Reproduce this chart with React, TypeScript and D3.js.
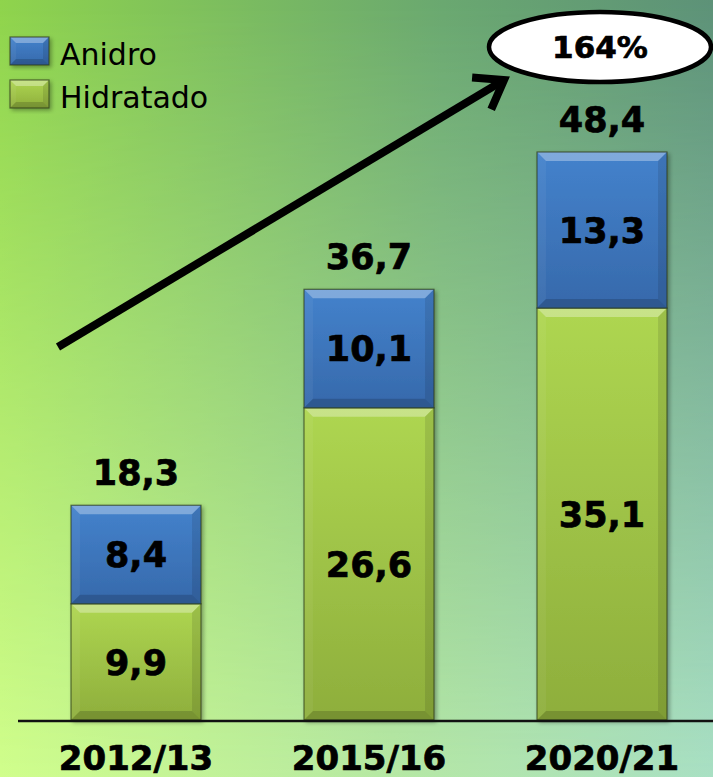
import * as d3 from "d3";
import React from "react";

const seasons = ["2012/13", "2015/16", "2020/21"];
const hidratado = [9.9, 26.6, 35.1];
const anidro = [8.4, 10.1, 13.3];
const totals = [18.3, 36.7, 48.4];
const growth = "164%";
const legendItems = ["Anidro", "Hidratado"];

const W = 713;
const H = 777;
const FONT = "'DejaVu Sans', Verdana, sans-serif";

const fmt = (v: number) => v.toFixed(1).replace(".", ",");

interface BevelProps {
  x: number;
  y: number;
  w: number;
  h: number;
  fill: string;
  b: number;
}

// beveled box like the Office 3-D bar style
function Bevel({ x, y, w, h, fill, b }: BevelProps) {
  const p = (pts: number[][]) => pts.map((q) => q.join(",")).join(" ");
  return (
    <g>
      <rect x={x} y={y} width={w} height={h} fill={fill} />
      <polygon points={p([[x, y], [x + w, y], [x + w - b, y + b], [x + b, y + b]])} fill="#fff" opacity={0.32} />
      <polygon points={p([[x, y], [x + b, y + b], [x + b, y + h - b], [x, y + h]])} fill="#fff" opacity={0.05} />
      <polygon points={p([[x + w, y], [x + w, y + h], [x + w - b, y + h - b], [x + w - b, y + b]])} fill="#000" opacity={0.1} />
      <polygon points={p([[x, y + h], [x + b, y + h - b], [x + w - b, y + h - b], [x + w, y + h]])} fill="#000" opacity={0.16} />
      <rect x={x} y={y} width={w} height={h} fill="none" stroke="#2b3a1a" strokeOpacity={0.7} strokeWidth={1.2} />
    </g>
  );
}

export default function App() {
  const x = d3
    .scaleBand<string>()
    .domain(seasons)
    .range([19.5, 718.5])
    .paddingInner(0.442)
    .paddingOuter(0.221);
  const y = d3.scaleLinear().domain([0, 48.4]).range([720, 152]);
  const bw = x.bandwidth();

  const stack = d3
    .stack<number>()
    .keys(["hidratado", "anidro"])
    .value((i, key) => (key === "hidratado" ? hidratado[i] : anidro[i]));
  const series = stack(seasons.map((_, i) => i));
  const fills = ["url(#gGreen)", "url(#gBlue)"];

  // growth arrow, annotation
  const a0 = [58, 347];
  const a1 = [504, 80];
  const ang = Math.atan2(a1[1] - a0[1], a1[0] - a0[0]);
  const hl = 32;
  const h1 = [a1[0] - hl * Math.cos(ang - 0.62), a1[1] - hl * Math.sin(ang - 0.62)];
  const h2 = [a1[0] - hl * Math.cos(ang + 0.62), a1[1] - hl * Math.sin(ang + 0.62)];

  const bold = { fontWeight: "bold" as const, fill: "#000", stroke: "#000", strokeWidth: 0.7 };

  return (
    <svg width={W} height={H} style={{ position: "absolute", left: 0, top: 0 }} fontFamily={FONT}>
      <defs>
        <linearGradient id="bgTop" x1="0" x2="1" y1="0" y2="0">
          <stop offset="0" stopColor="#8fd44c" />
          <stop offset="0.62" stopColor="#6aa870" />
          <stop offset="1" stopColor="#5d9278" />
        </linearGradient>
        <linearGradient id="bgBot" x1="0" x2="1" y1="0" y2="0">
          <stop offset="0" stopColor="#d0fe8c" />
          <stop offset="0.55" stopColor="#b6e8a4" />
          <stop offset="1" stopColor="#a9e0c4" />
        </linearGradient>
        <linearGradient id="vMask" x1="0" x2="0" y1="0" y2="1">
          <stop offset="0" stopColor="#fff" stopOpacity={0} />
          <stop offset="1" stopColor="#fff" stopOpacity={1} />
        </linearGradient>
        <mask id="bgMask">
          <rect width={W} height={H} fill="url(#vMask)" />
        </mask>
        <linearGradient id="gGreen" x1="0" x2="0" y1="0" y2="1">
          <stop offset="0" stopColor="#aed651" />
          <stop offset="1" stopColor="#8eae3c" />
        </linearGradient>
        <linearGradient id="gBlue" x1="0" x2="0" y1="0" y2="1">
          <stop offset="0" stopColor="#4482cc" />
          <stop offset="1" stopColor="#3669ab" />
        </linearGradient>
        <filter id="shadow" x="-10%" y="-10%" width="130%" height="130%">
          <feDropShadow dx="2" dy="2" stdDeviation="2" floodColor="#000" floodOpacity="0.35" />
        </filter>
      </defs>

      <rect width={W} height={H} fill="url(#bgTop)" />
      <rect width={W} height={H} fill="url(#bgBot)" mask="url(#bgMask)" />

      {/* bars */}
      <g filter="url(#shadow)">
        {series.map((s, k) =>
          s.map((d, i) => (
            <Bevel
              key={`${k}-${i}`}
              x={x(seasons[i])!}
              y={y(d[1])}
              w={bw}
              h={y(d[0]) - y(d[1])}
              fill={fills[k]}
              b={9}
            />
          ))
        )}
      </g>

      {/* axis */}
      <line x1={18} x2={W} y1={y(0) + 1} y2={y(0) + 1} stroke="#111" strokeWidth={2.5} />
      {seasons.map((s) => (
        <text key={s} x={x(s)! + bw / 2} y={770} textAnchor="middle" fontSize={34} {...bold}>
          {s}
        </text>
      ))}

      {/* segment labels */}
      {series.map((s, k) =>
        s.map((d, i) => (
          <text
            key={`l${k}-${i}`}
            x={x(seasons[i])! + bw / 2}
            y={(y(d[0]) + y(d[1])) / 2}
            dy="0.36em"
            textAnchor="middle"
            fontSize={35}
            {...bold}
          >
            {fmt(k === 0 ? hidratado[i] : anidro[i])}
          </text>
        ))
      )}

      {/* totals */}
      {totals.map((t, i) => (
        <text key={`t${i}`} x={x(seasons[i])! + bw / 2} y={y(t) - 20} textAnchor="middle" fontSize={35} {...bold}>
          {fmt(t)}
        </text>
      ))}

      {/* growth arrow */}
      <line x1={a0[0]} y1={a0[1]} x2={a1[0] - 5 * Math.cos(ang)} y2={a1[1] - 5 * Math.sin(ang)} stroke="#000" strokeWidth={8} />
      <polyline
        points={`${h1[0]},${h1[1]} ${a1[0]},${a1[1]} ${h2[0]},${h2[1]}`}
        fill="none"
        stroke="#000"
        strokeWidth={8}
        strokeLinejoin="miter"
      />
      <ellipse cx={600} cy={47} rx={111} ry={35} fill="#fff" stroke="#000" strokeWidth={4.5} />
      <text x={600} y={47} dy="0.36em" textAnchor="middle" fontSize={31} {...bold}>
        {growth}
      </text>

      {/* legend */}
      {legendItems.map((name, i) => (
        <g key={name} filter="url(#shadow)">
          <Bevel x={10} y={37 + i * 43} w={39} h={28} fill={i === 0 ? "url(#gBlue)" : "url(#gGreen)"} b={6} />
        </g>
      ))}
      {legendItems.map((name, i) => (
        <text key={`lt${name}`} x={60} y={65 + i * 43} fontSize={30} fill="#000">
          {name}
        </text>
      ))}
    </svg>
  );
}
